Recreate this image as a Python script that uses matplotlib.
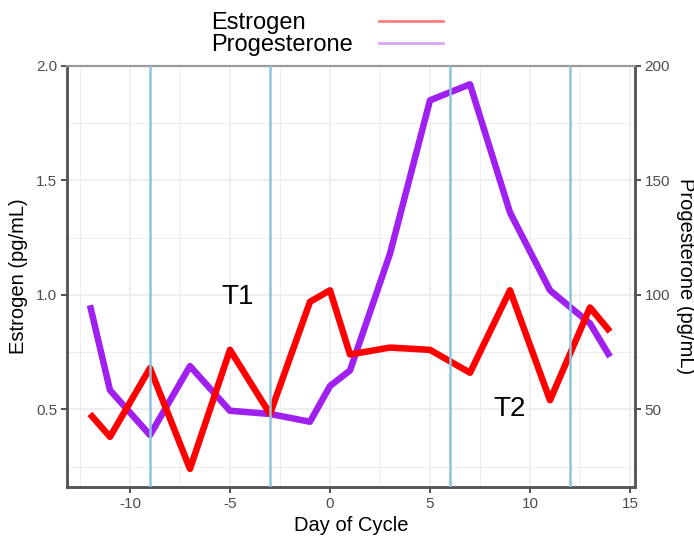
import matplotlib.pyplot as plt
from matplotlib.lines import Line2D
from matplotlib.ticker import MultipleLocator

plt.rcParams['font.family'] = ['Liberation Sans', 'DejaVu Sans']
plt.rcParams['axes.unicode_minus'] = False

# values
days = [-12, -11, -9, -7, -5, -3, -1, 0, 1, 3, 5, 7, 9, 11, 13, 14]
estrogen = [0.48, 0.38, 0.68, 0.24, 0.76, 0.48, 0.97, 1.02, 0.74, 0.77, 0.76, 0.66, 1.02, 0.54, 0.945, 0.84]
progesterone = [95.5, 58.4, 38.8, 68.9, 49.4, 48.0, 44.6, 60.2, 67.0, 118.0, 185.0, 192.0, 136.0, 102.0, 87.5, 73.0]
phase_days = [-9, -3, 6, 12]
phase_names = ['T1', 'T2']
phase_pos = [(-4.6, 0.99), (9.0, 0.50)]

red = '#ff0000'
purple = '#a020f0'
blue = '#8cc5de'
grid_col = '#ebebeb'
axis_col = '#4d4d4d'

fig = plt.figure(figsize=(6.94, 5.39), dpi=100)
ax_p = fig.add_axes([0.0965, 0.0965, 0.8185, 0.7811])
ax_e = ax_p.twinx()

# progesterone sits underneath, scale on the right
ax_p.plot(days, progesterone, color=purple, lw=4.7, solid_capstyle='butt', zorder=2)
ax_p.set_ylim(16.1, 200)
ax_p.yaxis.tick_right()
ax_p.yaxis.set_label_position('right')
ax_p.yaxis.set_major_locator(MultipleLocator(50))
ax_p.yaxis.set_minor_locator(MultipleLocator(25))
ax_p.set_xlim(-13.15, 15.25)
ax_p.xaxis.set_major_locator(MultipleLocator(5))
ax_p.xaxis.set_minor_locator(MultipleLocator(2.5))
ax_p.grid(which='major', color=grid_col, lw=1.1)
ax_p.grid(which='minor', color=grid_col, lw=0.6)
ax_p.set_axisbelow(True)
ax_p.set_ylabel('Progesterone (pg/mL)', fontsize=14.5, rotation=270, labelpad=18)
ax_p.set_xlabel('Day of Cycle', fontsize=14.5, labelpad=4)

# estrogen on top, scale on the left
ax_e.plot(days, estrogen, color=red, lw=4.7, solid_capstyle='butt', zorder=2)
for d in phase_days:
    ax_e.axvline(d, color=blue, lw=1.8, zorder=3)
for name, (x, y) in zip(phase_names, phase_pos):
    ax_e.text(x, y, name, fontsize=20, ha='center', va='center')
ax_e.set_ylim(0.161, 2.0)
ax_e.yaxis.tick_left()
ax_e.yaxis.set_label_position('left')
ax_e.yaxis.set_major_locator(MultipleLocator(0.5))
ax_e.set_ylabel('Estrogen (pg/mL)', fontsize=14.5, labelpad=6)

for a in (ax_p, ax_e):
    a.tick_params(which='major', direction='out', length=4, width=1.2,
                  color='#333333', labelcolor=axis_col, labelsize=11, pad=3)
    a.tick_params(which='minor', length=0)
    for s in a.spines.values():
        s.set_color('#555555')
        s.set_linewidth(1.8)
    a.spines['top'].set_color('#999999')
    a.spines['top'].set_linewidth(1.5)

# legend: labels on the left, keys on the right
blank = Line2D([], [], linestyle='none')
key_e = Line2D([], [], color=red, alpha=0.5, lw=2)
key_p = Line2D([], [], color=purple, alpha=0.4, lw=2)
fig.legend(handles=[blank, blank, key_e, key_p],
           labels=['Estrogen', 'Progesterone', '', ''],
           ncol=2, frameon=False, fontsize=17, handlelength=2.7,
           handletextpad=0.8, columnspacing=1.1, labelspacing=0.02,
           borderpad=0.0, loc='upper left', bbox_to_anchor=(0.1686, 1.0))

fig.savefig('out.png', dpi=100)
